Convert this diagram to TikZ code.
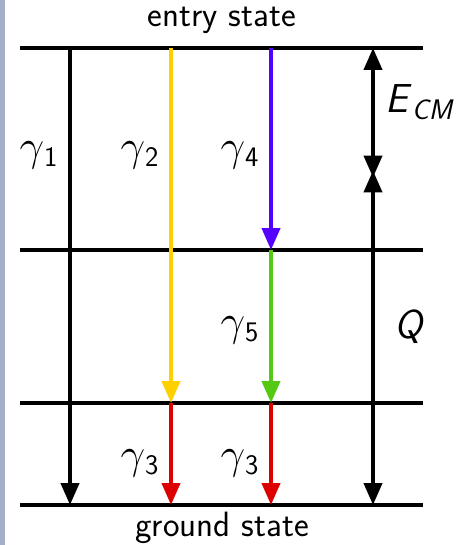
\documentclass[tikz,border=0pt]{standalone}
\usepackage{amsmath}
\usepackage{fontspec}
\usepackage{xcolor}
\usetikzlibrary{arrows.meta,positioning,calc}

\definecolor{gyellow}{RGB}{255,208,0}
\definecolor{gblue}{RGB}{85,0,255}
\definecolor{ggreen}{RGB}{85,200,20}
\definecolor{gred}{RGB}{220,0,0}
\definecolor{stripbg}{RGB}{165,175,200}

\begin{document}
\begin{tikzpicture}[x=0.02cm, y=-0.02cm,
  level/.style={line width=2.3pt},
  trans/.style={line width=2.3pt, -{Triangle[length=0.44cm, width=0.36cm]}},
  span/.style={line width=2.3pt, {Triangle[length=0.44cm, width=0.36cm]}-{Triangle[length=0.44cm, width=0.36cm]}},
  lab/.style={font=\sffamily\fontsize{20}{24}\selectfont, inner sep=0pt},
  glab/.style={font=\sffamily\fontsize{23}{26}\selectfont, inner sep=0pt}
]
  \useasboundingbox (0,0) rectangle (468,545);
  \fill[stripbg] (0,0) rectangle (5,545);

  % energy levels
  \coordinate (entryL) at (20,48);   \coordinate (entryR) at (423,48);
  \coordinate (midL) at (20,250);    \coordinate (midR) at (423,250);
  \coordinate (lowL) at (20,403);    \coordinate (lowR) at (423,403);
  \coordinate (groundL) at (20,505); \coordinate (groundR) at (423,505);
  \coordinate (c1) at (70,0);
  \coordinate (c2) at (171,0);
  \coordinate (c3) at (271,0);
  \coordinate (c4) at (373,0);
  \coordinate (split) at (373,174);

  \draw[level] (entryL) -- (entryR);
  \draw[level] (midL) -- (midR);
  \draw[level] (lowL) -- (lowR);
  \draw[level] (groundL) -- (groundR);

  \node[lab] (entry) at (222,20) {entry state};
  \node[lab] (ground) at (222,528) {ground state};

  % gamma transitions
  \draw[trans] (entryL -| c1) -- (groundL -| c1);
  \draw[trans, gyellow] (entryL -| c2) -- (lowL -| c2);
  \draw[trans, gblue] (entryL -| c3) -- (midL -| c3);
  \draw[trans, ggreen] (midL -| c3) -- (lowL -| c3);
  \draw[trans, gred] (lowL -| c2) -- (groundL -| c2);
  \draw[trans, gred] (lowL -| c3) -- (groundL -| c3);

  \node[glab] (g1) at (39,155) {$\gamma$\textsubscript{1}};
  \node[glab] (g2) at (140,155) {$\gamma$\textsubscript{2}};
  \node[glab] (g4) at (240,155) {$\gamma$\textsubscript{4}};
  \node[glab] (g5) at (240,330) {$\gamma$\textsubscript{5}};
  \node[glab] (g3a) at (140,463) {$\gamma$\textsubscript{3}};
  \node[glab] (g3b) at (240,463) {$\gamma$\textsubscript{3}};

  % energies
  \draw[span] (entryL -| c4) -- ([yshift=-2pt]split);
  \draw[span] ([yshift=2pt]split) -- (groundL -| c4);
  \node[glab] (ecm) at (420,102) {\textsl{E}\textsubscript{\textsl{CM}}};
  \node[glab] (q) at (410,327) {\textsl{Q}};
\end{tikzpicture}
\end{document}
